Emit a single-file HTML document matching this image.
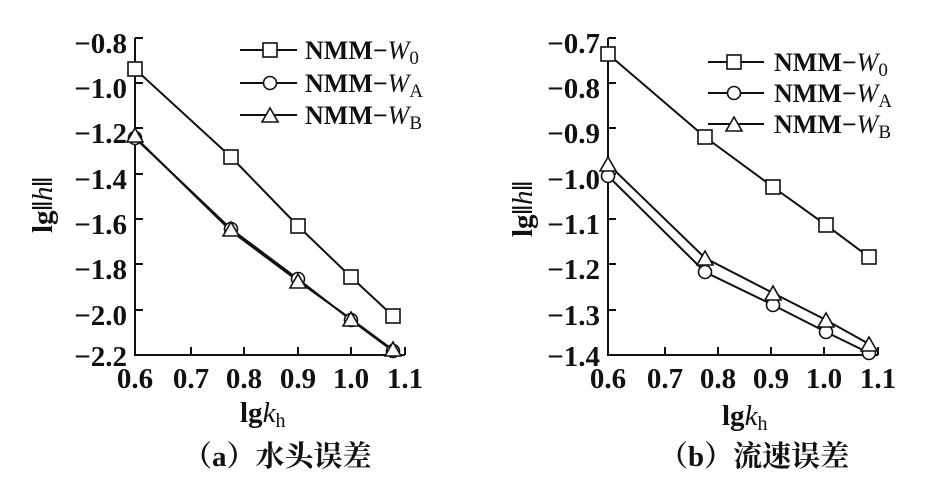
<!DOCTYPE html>
<html><head><meta charset="utf-8"><style>
html,body{margin:0;padding:0;background:#fff;}
svg{display:block;}
text{font-family:"Liberation Serif","Noto Serif CJK SC",serif;fill:#111;}
.t{font-size:29px;font-weight:bold;font-family:"Liberation Serif",serif;}
.lg{font-size:26px;font-weight:bold;font-family:"Liberation Serif",serif;}
</style></head><body>
<svg width="930" height="496" viewBox="0 0 930 496" xmlns="http://www.w3.org/2000/svg">
<g stroke="#111" stroke-width="2" fill="none">
<path d="M135,38 V355 H405"/>
<path d="M191,355v-8 M244,355v-8 M298,355v-8 M351,355v-8 M405,355v-8"/>
<path d="M135,38h8 M135,83h8 M135,128h8 M135,174h8 M135,219h8 M135,264h8 M135,310h8"/>
<path d="M608,38 V355 H878"/>
<path d="M665,355v-8 M718,355v-8 M771,355v-8 M824,355v-8 M878,355v-8"/>
<path d="M608,38h8 M608,83h8 M608,128h8 M608,174h8 M608,219h8 M608,264h8 M608,310h8"/>
<polyline points="135,69 231,157 298,226 351,277 393,316"/>
<polyline points="135,138 231,229 298,279 351,320 393,351"/>
<polyline points="135,137 231,231 298,281 351,319 393,350"/>
<polyline points="608,54 705,137 773,187 826,225 869,257"/>
<polyline points="608,176 705,272 773,305 826,332 869,353"/>
<polyline points="608,164 705,258 773,293 826,320 869,344"/>
<path d="M240,50h57 M240,83h57 M240,115h57"/>
<path d="M708,62h56 M708,93h56 M708,124h56"/>
</g>
<g stroke="#111" stroke-width="1.6" fill="#fff">
<rect x="128" y="62" width="14" height="14"/><rect x="224" y="150" width="14" height="14"/><rect x="291" y="219" width="14" height="14"/><rect x="344" y="270" width="14" height="14"/><rect x="386" y="309" width="14" height="14"/>
<circle cx="135" cy="138" r="6.5"/><circle cx="231" cy="229" r="6.5"/><circle cx="298" cy="279" r="6.5"/><circle cx="351" cy="320" r="6.5"/><circle cx="393" cy="351" r="6.5"/>
<path d="M135,128l-8,14h16z M231,222l-8,14h16z M298,274l-8,14h16z M351,312l-8,14h16z M393,342l-8,14h16z"/>
<rect x="601" y="47" width="14" height="14"/><rect x="698" y="130" width="14" height="14"/><rect x="766" y="180" width="14" height="14"/><rect x="819" y="218" width="14" height="14"/><rect x="862" y="250" width="14" height="14"/>
<circle cx="608" cy="176" r="6.5"/><circle cx="705" cy="272" r="6.5"/><circle cx="773" cy="305" r="6.5"/><circle cx="826" cy="332" r="6.5"/><circle cx="869" cy="353" r="6.5"/>
<path d="M608,157l-8,14h16z M705,251l-8,14h16z M773,286l-8,14h16z M826,313l-8,14h16z M869,337l-8,14h16z"/>
<rect x="263" y="43" width="14" height="14"/><circle cx="270" cy="83" r="6.5"/><path d="M270,108l-8,14h16z"/>
<rect x="727" y="55" width="14" height="14"/><circle cx="734" cy="93" r="6.5"/><path d="M734,117l-8,14h16z"/>
</g>
<g class="t" text-anchor="end">
<text x="127" y="53">−0.8</text><text x="127" y="98">−1.0</text><text x="127" y="143">−1.2</text><text x="127" y="189">−1.4</text><text x="127" y="234">−1.6</text><text x="127" y="279">−1.8</text><text x="127" y="325">−2.0</text><text x="127" y="366">−2.2</text>
<text x="600" y="53">−0.7</text><text x="600" y="98">−0.8</text><text x="600" y="143">−0.9</text><text x="600" y="189">−1.0</text><text x="600" y="234">−1.1</text><text x="600" y="279">−1.2</text><text x="600" y="325">−1.3</text><text x="600" y="366">−1.4</text>
</g>
<g class="t" text-anchor="middle">
<text x="135" y="388">0.6</text><text x="191" y="388">0.7</text><text x="244" y="388">0.8</text><text x="298" y="388">0.9</text><text x="351" y="388">1.0</text><text x="405" y="388">1.1</text>
<text x="608" y="388">0.6</text><text x="665" y="388">0.7</text><text x="718" y="388">0.8</text><text x="771" y="388">0.9</text><text x="824" y="388">1.0</text><text x="878" y="388">1.1</text>
</g>
<text class="t" x="240" y="422">lg<tspan font-style="italic" font-weight="normal">k</tspan><tspan font-size="20" font-weight="normal" dy="5">h</tspan></text>
<text class="t" x="722" y="425">lg<tspan font-style="italic" font-weight="normal">k</tspan><tspan font-size="20" font-weight="normal" dy="5">h</tspan></text>
<text class="t" transform="translate(52,233) rotate(-90)">lg‖<tspan font-style="italic" font-weight="normal">h</tspan>‖</text>
<text class="t" transform="translate(532,237) rotate(-90)">lg‖<tspan font-style="italic" font-weight="normal">h</tspan>‖</text>
<g class="lg">
<text x="305" y="59">NMM−<tspan font-style="italic" font-weight="normal">W</tspan><tspan font-weight="normal" font-size="19" dy="5">0</tspan></text>
<text x="305" y="92">NMM−<tspan font-style="italic" font-weight="normal">W</tspan><tspan font-weight="normal" font-size="19" dy="5">A</tspan></text>
<text x="305" y="124">NMM−<tspan font-style="italic" font-weight="normal">W</tspan><tspan font-weight="normal" font-size="19" dy="5">B</tspan></text>
<text x="774" y="71">NMM−<tspan font-style="italic" font-weight="normal">W</tspan><tspan font-weight="normal" font-size="19" dy="5">0</tspan></text>
<text x="774" y="102">NMM−<tspan font-style="italic" font-weight="normal">W</tspan><tspan font-weight="normal" font-size="19" dy="5">A</tspan></text>
<text x="774" y="133">NMM−<tspan font-style="italic" font-weight="normal">W</tspan><tspan font-weight="normal" font-size="19" dy="5">B</tspan></text>
</g>
<text x="183" y="466" font-size="29" font-weight="bold">（a）水头误差</text>
<text x="659" y="466" font-size="29" font-weight="bold">（b）流速误差</text>
</svg>
</body></html>
